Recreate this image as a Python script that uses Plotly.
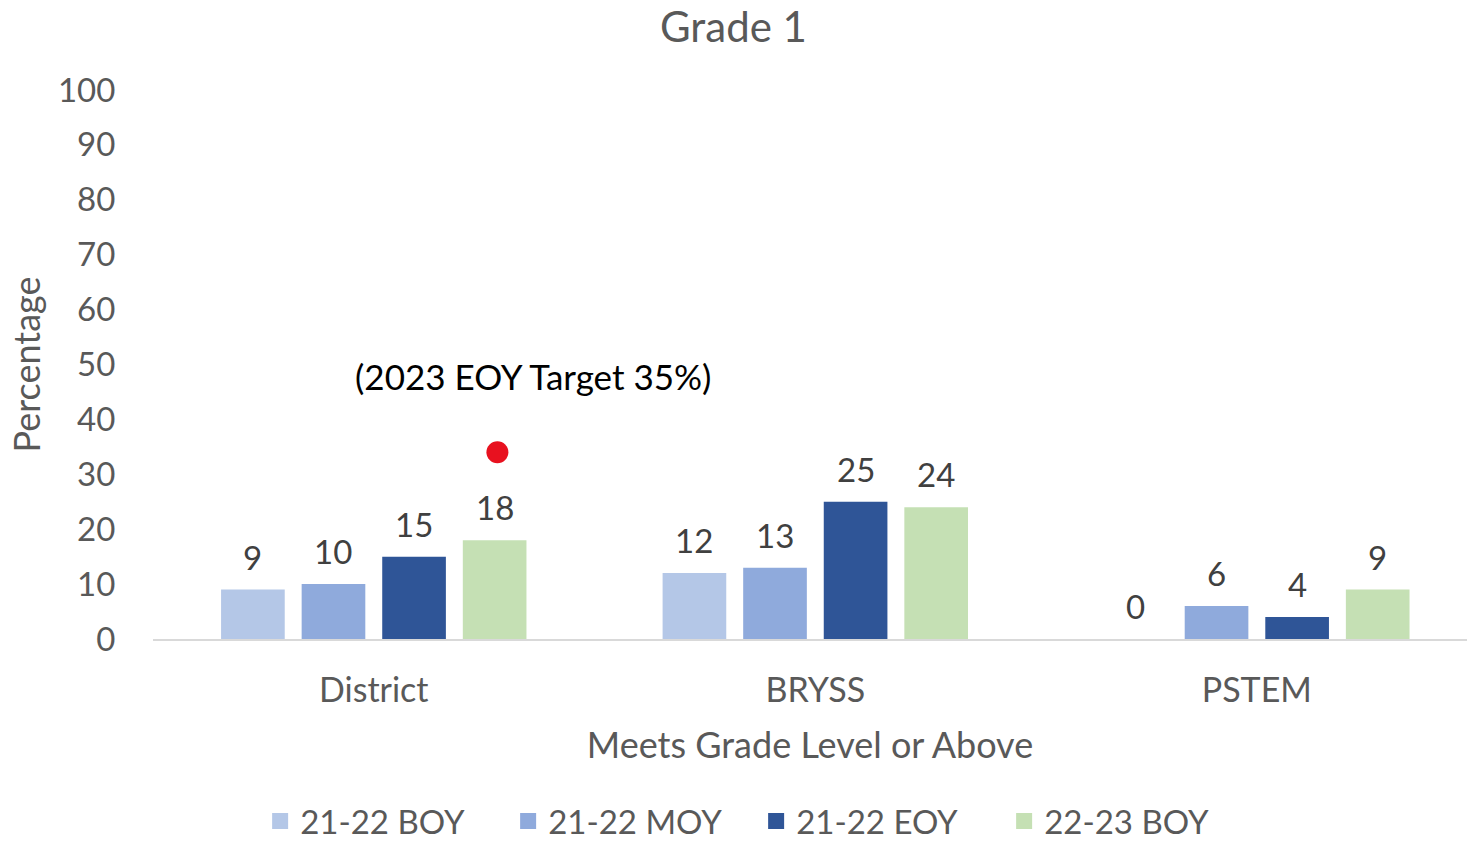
import plotly.graph_objects as go

categories = ["District", "BRYSS", "PSTEM"]
series_names = ["21-22 BOY", "21-22 MOY", "21-22 EOY", "22-23 BOY"]
values = {
    "21-22 BOY": [9, 12, 0],
    "21-22 MOY": [10, 13, 6],
    "21-22 EOY": [15, 25, 4],
    "22-23 BOY": [18, 24, 9],
}
colors = {
    "21-22 BOY": "#b4c7e7",
    "21-22 MOY": "#8faadc",
    "21-22 EOY": "#2f5597",
    "22-23 BOY": "#c5e0b4",
}
target_x = [0.28]
target_y = [34]
target_label = "(2023 EOY Target 35%)"

FONT = "Lato, Open Sans, sans-serif"
GRAY = "#595959"
BARGAP = 0.27
BARGROUPGAP = 0.21
X_RANGE = [-0.5, 2.476]

fig = go.Figure()
for s in series_names:
    fig.add_trace(go.Bar(
        name=s, x=categories, y=values[s], showlegend=False,
        marker=dict(color=colors[s], line=dict(width=0)),
    ))
# legend entries with larger square swatches
for s in series_names:
    fig.add_trace(go.Scatter(
        name=s, x=[None], y=[None], mode="markers",
        marker=dict(symbol="square", size=20, color=colors[s]),
    ))

fig.add_trace(go.Scatter(
    x=target_x, y=target_y, xaxis="x2", mode="markers",
    marker=dict(color="#e8111f", size=22), showlegend=False, hoverinfo="skip",
))

# data labels placed above each bar using the bar's category index and group slot
slot = (1 - BARGAP) / len(series_names)
annotations = []
for i, s in enumerate(series_names):
    for ci, v in enumerate(values[s]):
        annotations.append(dict(
            text=str(v), x=ci + (i - (len(series_names) - 1) / 2) * slot, xref="x2",
            y=v, yref="y", yanchor="bottom", yshift=11, showarrow=False,
            font=dict(size=33, color="#404040", family=FONT)))
annotations.append(dict(text=target_label, x=0.36, xref="x2", y=47.9, yref="y",
                        showarrow=False, font=dict(size=35, color="#000000", family=FONT)))

fig.update_layout(
    width=1467, height=842,
    paper_bgcolor="white", plot_bgcolor="white",
    font=dict(family=FONT, color=GRAY, size=33),
    margin=dict(l=153, r=0, t=90, b=203, autoexpand=False),
    barmode="group", bargap=BARGAP, bargroupgap=BARGROUPGAP,
    title=dict(text="Grade 1", x=0.5, xanchor="center", y=0.967, yanchor="middle",
               font=dict(size=42, color=GRAY, family=FONT)),
    xaxis=dict(showgrid=False, showline=True, linecolor="#d9d9d9", linewidth=1.5,
               ticks="outside", ticklen=20, tickcolor="rgba(0,0,0,0)",
               tickfont=dict(size=34, color=GRAY), range=X_RANGE, automargin=False,
               title=dict(text="Meets Grade Level or Above", standoff=25,
                          font=dict(size=36, color=GRAY))),
    xaxis2=dict(overlaying="x", range=X_RANGE, visible=False),
    yaxis=dict(range=[0, 100], dtick=10, showgrid=False, zeroline=False,
               ticks="outside", ticklen=30, tickcolor="rgba(0,0,0,0)",
               tickfont=dict(size=33, color=GRAY), automargin=False,
               title=dict(text="Percentage", standoff=6, font=dict(size=36, color=GRAY))),
    legend=dict(orientation="h", x=0.459, xanchor="center", y=-0.3315, yanchor="middle",
                font=dict(size=33, color=GRAY), traceorder="normal",
                itemsizing="trace", entrywidth=203, entrywidthmode="pixels"),
    annotations=annotations,
)

fig.write_html("out.html", config={"displayModeBar": False},
               post_script="document.body.style.margin='0px';")
